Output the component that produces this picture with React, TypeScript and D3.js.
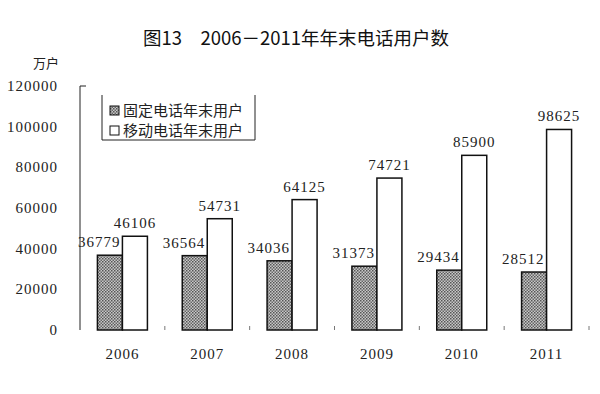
import * as d3 from "d3";
import React from "react";

const years = ["2006", "2007", "2008", "2009", "2010", "2011"];
const fixedUsers = [36779, 36564, 34036, 31373, 29434, 28512];
const mobileUsers = [46106, 54731, 64125, 74721, 85900, 98625];
const yTicks = [0, 20000, 40000, 60000, 80000, 100000, 120000];
const seriesNames = ["固定电话年末用户", "移动电话年末用户"];

const W = 600;
const H = 394;
const left = 80;
const right = 589;
const top = 86;
const bottom = 330;

const numFont = "'Liberation Serif', 'Times New Roman', serif";
const cjkFont = "'Noto Sans CJK SC', sans-serif";

const App = () => {
  const x = d3.scaleBand<string>().domain(years).range([left, right]).paddingInner(0).paddingOuter(0);
  const inner = d3.scaleBand<string>().domain(["fixed", "mobile"]).range([0, 50]);
  const y = d3.scaleLinear().domain([0, 120000]).range([bottom, top]);
  const groupOffset = (x.bandwidth() - 50) / 2;

  return (
    <svg width={W} height={H} style={{ position: "absolute", left: 0, top: 0, background: "#fff" }}>
      <defs>
        <pattern id="hatch" width="3" height="3" patternUnits="userSpaceOnUse">
          <rect width="3" height="3" fill="#c8c8c8" />
          <rect x="0" y="0" width="1.5" height="1.5" fill="#555" />
          <rect x="1.5" y="1.5" width="1.5" height="1.5" fill="#666" />
        </pattern>
      </defs>

      <text x={296} y={45} textAnchor="middle" fontFamily={cjkFont} fontSize={18.5} fontWeight={400} fill="#111">
        图13　2006－2011年年末电话用户数
      </text>
      <text x={46} y={68} textAnchor="middle" fontFamily={cjkFont} fontSize={13} fill="#222">
        万户
      </text>

      {/* y axis */}
      <line x1={left} x2={left} y1={top} y2={bottom} stroke="#222" strokeWidth={1} />
      <line x1={left} x2={left + 6} y1={top} y2={top} stroke="#222" strokeWidth={1} />
      {yTicks.map((t) => (
        <text key={t} x={58} y={y(t) + 5} textAnchor="end" fontFamily={numFont} fontSize={15} letterSpacing={1} fill="#222">
          {t}
        </text>
      ))}

      {/* x axis small ticks */}
      {years.map((yr) => (
        <line key={"t" + yr} x1={x(yr)! + x.bandwidth()} x2={x(yr)! + x.bandwidth()} y1={bottom - 4} y2={bottom} stroke="#777" strokeWidth={1} />
      ))}

      {years.map((yr, i) => {
        const gx = x(yr)! + groupOffset;
        const fx = gx + inner("fixed")!;
        const mx = gx + inner("mobile")!;
        const bw = inner.bandwidth();
        return (
          <g key={yr}>
            <rect x={fx} y={y(fixedUsers[i])} width={bw} height={bottom - y(fixedUsers[i])} fill="url(#hatch)" stroke="#111" strokeWidth={1.5} />
            <rect x={mx} y={y(mobileUsers[i])} width={bw} height={bottom - y(mobileUsers[i])} fill="#fff" stroke="#111" strokeWidth={1.5} />
            <text x={fx + bw - 2} y={y(fixedUsers[i]) - 8} textAnchor="end" fontFamily={numFont} fontSize={15} letterSpacing={1} fill="#222">
              {fixedUsers[i]}
            </text>
            <text x={mx + bw / 2} y={y(mobileUsers[i]) - 8} textAnchor="middle" fontFamily={numFont} fontSize={15} letterSpacing={1} fill="#222">
              {mobileUsers[i]}
            </text>
            <text x={x(yr)! + x.bandwidth() / 2} y={359} textAnchor="middle" fontFamily={numFont} fontSize={15} letterSpacing={1} fill="#222">
              {yr}
            </text>
          </g>
        );
      })}

      {/* legend */}
      <path d="M102,95 V140 H255 V95" fill="none" stroke="#222" strokeWidth={1} />
      {seriesNames.map((name, i) => (
        <g key={name} transform={`translate(110, ${111 + i * 20})`}>
          <rect x={0} y={-5} width={9} height={9} fill={i === 0 ? "url(#hatch)" : "#fff"} stroke="#111" strokeWidth={1} />
          <text x={13} y={5} fontFamily={cjkFont} fontSize={15} fill="#222">
            {name}
          </text>
        </g>
      ))}
    </svg>
  );
};

export default App;
